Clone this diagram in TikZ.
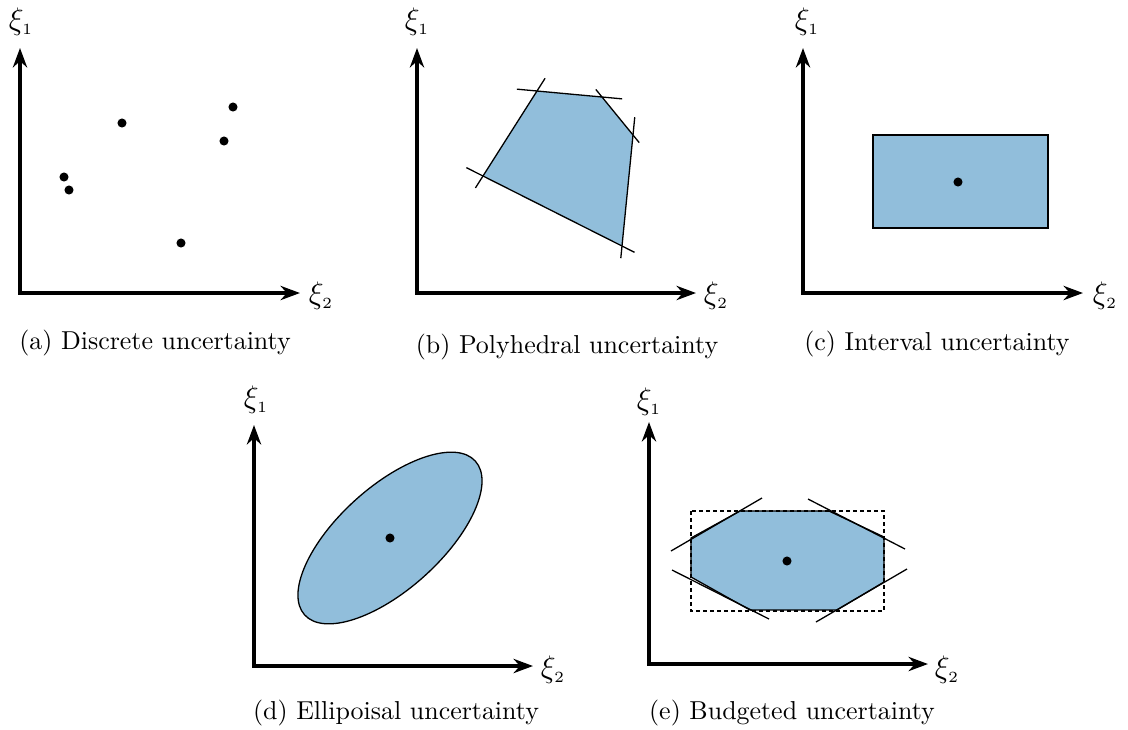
\documentclass[tikz,border=0pt]{standalone}
\usetikzlibrary{arrows.meta, calc}

\definecolor{setblue}{RGB}{145,190,219}

\begin{document}
\begin{tikzpicture}[x=0.3856pt, y=-0.3856pt,
    axis/.style={line width=1.2pt, {Stealth[length=7.5pt,width=5.5pt]}-{Stealth[length=7.5pt,width=5.5pt]}},
    region/.style={draw, fill=setblue, line width=0.5pt},
    cut/.style={line width=0.5pt},
    dot/.style={circle, fill, inner sep=0pt, minimum size=3.5pt},
    lab/.style={inner sep=0pt}]

    \useasboundingbox (0,0) rectangle (1128,729);

    % (a) diskret
    \coordinate (oa) at (20,293);
    \coordinate (ya) at (20,48);
    \coordinate (xa) at (300,293);
    \draw[axis] (ya) -- (oa) -- (xa);
    \node[lab] (ya1) at (21,22) {\large$\xi_{\scriptscriptstyle 1}$};
    \node[lab] (xa2) at (321,296) {\large$\xi_{\scriptscriptstyle 2}$};
    \node[dot] (a1) at (122,123) {};
    \node[dot] (a2) at (64,177) {};
    \node[dot] (a3) at (69,190) {};
    \node[dot] (a4) at (181,243) {};
    \node[dot] (a5) at (224,141) {};
    \node[dot] (a6) at (233,107) {};
    \node (capa) at (155,343) {(a) Discrete uncertainty};

    % (b) polihedral
    \coordinate (ob) at (417,293);
    \coordinate (yb) at (417,48);
    \coordinate (xb) at (696,293);
    \coordinate (b1) at (483,176);
    \coordinate (b2) at (537,91);
    \coordinate (b3) at (602,97);
    \coordinate (b4) at (633,135);
    \coordinate (b5) at (622,246);
    \fill[setblue] (b1) -- (b2) -- (b3) -- (b4) -- (b5) -- cycle;
    \draw[cut] ($(b1)!-0.12!(b5)$) -- ($(b1)!1.09!(b5)$);
    \draw[cut] ($(b1)!-0.14!(b2)$) -- ($(b1)!1.15!(b2)$);
    \draw[cut] ($(b2)!-0.31!(b3)$) -- ($(b2)!1.31!(b3)$);
    \draw[cut] ($(b3)!-0.2!(b4)$) -- ($(b3)!1.2!(b4)$);
    \draw[cut] ($(b4)!-0.16!(b5)$) -- ($(b4)!1.11!(b5)$);
    \draw[axis] (yb) -- (ob) -- (xb);
    \node[lab] (yb1) at (417,22) {\large$\xi_{\scriptscriptstyle 1}$};
    \node[lab] (xb2) at (716,296) {\large$\xi_{\scriptscriptstyle 2}$};
    \node (capb) at (567,347) {(b) Polyhedral uncertainty};

    % (c) interval
    \coordinate (oc) at (803,293);
    \coordinate (yc) at (803,48);
    \coordinate (xc) at (1083,293);
    \draw[region] (873,135) rectangle (1048,228);
    \node[dot] (cc) at (958,182) {};
    \draw[axis] (yc) -- (oc) -- (xc);
    \node[lab] (yc1) at (807,22) {\large$\xi_{\scriptscriptstyle 1}$};
    \node[lab] (xc2) at (1105,296) {\large$\xi_{\scriptscriptstyle 2}$};
    \node (capc) at (937,344) {(c) Interval uncertainty};

    % (d) elipsoidal
    \coordinate (od) at (254,666);
    \coordinate (yd) at (254,425);
    \coordinate (xd) at (533,666);
    \coordinate (ce) at (390,538);
    \draw[region, rotate around={42:(ce)}] (ce) ellipse [x radius=44.3pt, y radius=19.8pt];
    \node[dot] (cd) at (ce) {};
    \draw[axis] (yd) -- (od) -- (xd);
    \node[lab] (yd1) at (256,400) {\large$\xi_{\scriptscriptstyle 1}$};
    \node[lab] (xd2) at (553,670) {\large$\xi_{\scriptscriptstyle 2}$};
    \node (capd) at (396,713) {(d) Ellipoisal uncertainty};

    % (e) anggaran
    \coordinate (oe) at (649,664);
    \coordinate (ye) at (649,422);
    \coordinate (xe) at (928,664);
    \coordinate (e1) at (691,538);
    \coordinate (e2) at (740,511);
    \coordinate (e3) at (829,511);
    \coordinate (e4) at (884,537);
    \coordinate (e5) at (884,582);
    \coordinate (e6) at (837,610);
    \coordinate (e7) at (750,610);
    \coordinate (e8) at (691,577);
    \fill[setblue] (e1) -- (e2) -- (e3) -- (e4) -- (e5) -- (e6) -- (e7) -- (e8) -- cycle;
    \draw[cut] (e1) -- (e2) -- (e3) -- (e4) -- (e5) -- (e6) -- (e7) -- (e8) -- cycle;
    \draw[line width=0.4pt, dash pattern=on 1.6pt off 1.1pt] (691,511) rectangle (884,611);
    \draw[cut] (671,551) -- (762,498);
    \draw[cut] (808,499) -- (905,549);
    \draw[cut] (672,570) -- (769,619);
    \draw[cut] (816,622) -- (907,569);
    \node[dot] (ec) at (787,561) {};
    \draw[axis] (ye) -- (oe) -- (xe);
    \node[lab] (ye1) at (649,402) {\large$\xi_{\scriptscriptstyle 1}$};
    \node[lab] (xe2) at (947,670) {\large$\xi_{\scriptscriptstyle 2}$};
    \node (cape) at (792,713) {(e) Budgeted uncertainty};

\end{tikzpicture}
\end{document}
